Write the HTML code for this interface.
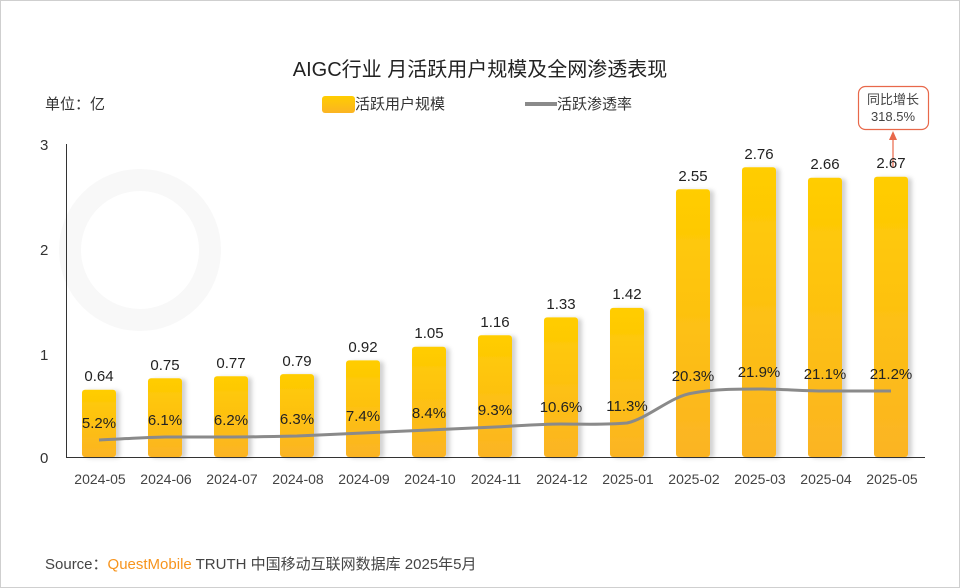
<!DOCTYPE html>
<html><head><meta charset="utf-8"><style>
body{margin:0;background:#fff}
svg{display:block;font-family:"Liberation Sans","Noto Sans CJK SC",sans-serif}
</style></head><body>
<svg width="960" height="588" viewBox="0 0 960 588">
<defs>
<linearGradient id="g" x1="0" y1="0" x2="0" y2="1"><stop offset="0" stop-color="#FFCD00"/><stop offset="1" stop-color="#FBB424"/></linearGradient>
<filter id="sh" x="-20%" y="-5%" width="150%" height="110%"><feDropShadow dx="4" dy="1" stdDeviation="2" flood-color="#000" flood-opacity="0.18"/></filter>
</defs>
<rect x="0.5" y="0.5" width="959" height="587" fill="#fff" stroke="#cfcfcf"/>
<g fill="none" stroke="#f8f8f8" stroke-width="22">
<circle cx="140" cy="250" r="70"/>
</g>
<text x="480" y="76" text-anchor="middle" font-size="20" fill="#222">AIGC行业 月活跃用户规模及全网渗透表现</text>
<text x="45" y="109" font-size="15" fill="#333">单位：亿</text>
<rect x="322" y="96" width="33" height="17" rx="3" fill="url(#g)"/>
<text x="355" y="109" font-size="15" fill="#333">活跃用户规模</text>
<line x1="525" y1="104" x2="557" y2="104" stroke="#8a8a8a" stroke-width="4"/>
<text x="557" y="109" font-size="15" fill="#333">活跃渗透率</text>
<rect x="858.5" y="86.5" width="70" height="43" rx="7" fill="#fff" stroke="#E8684A" stroke-width="1.2"/>
<text x="893" y="104" text-anchor="middle" font-size="13" fill="#444">同比增长</text>
<text x="893" y="121" text-anchor="middle" font-size="13" fill="#444">318.5%</text>
<line x1="893" y1="168" x2="893" y2="138" stroke="#E8684A" stroke-width="1.2"/>
<path d="M889 140 L893 131 L897 140Z" fill="#E8684A"/>
<g font-size="15" fill="#333">
<text x="40" y="150">3</text><text x="40" y="255">2</text><text x="40" y="360">1</text><text x="40" y="463">0</text>
</g>
<line x1="66.5" y1="144" x2="66.5" y2="457" stroke="#333"/>
<g filter="url(#sh)" fill="url(#g)">
<rect x="82" y="389.8" width="34" height="67.2" rx="3"/>
<rect x="148" y="378.3" width="34" height="78.7" rx="3"/>
<rect x="214" y="376.2" width="34" height="80.8" rx="3"/>
<rect x="280" y="374.1" width="34" height="82.9" rx="3"/>
<rect x="346" y="360.4" width="34" height="96.6" rx="3"/>
<rect x="412" y="346.8" width="34" height="110.2" rx="3"/>
<rect x="478" y="335.2" width="34" height="121.8" rx="3"/>
<rect x="544" y="317.4" width="34" height="139.6" rx="3"/>
<rect x="610" y="307.9" width="34" height="149.1" rx="3"/>
<rect x="676" y="189.3" width="34" height="267.7" rx="3"/>
<rect x="742" y="167.2" width="34" height="289.8" rx="3"/>
<rect x="808" y="177.7" width="34" height="279.3" rx="3"/>
<rect x="874" y="176.7" width="34" height="280.3" rx="3"/>
</g>
<line x1="66" y1="457.5" x2="925" y2="457.5" stroke="#333"/>
<g font-size="15" fill="#222" text-anchor="middle">
<text x="99" y="381">0.64</text><text x="165" y="370">0.75</text><text x="231" y="368">0.77</text><text x="297" y="366">0.79</text>
<text x="363" y="352">0.92</text><text x="429" y="338">1.05</text><text x="495" y="327">1.16</text><text x="561" y="309">1.33</text>
<text x="627" y="299">1.42</text><text x="693" y="181">2.55</text><text x="759" y="159">2.76</text><text x="825" y="169">2.66</text><text x="891" y="168">2.67</text>
</g>
<path d="M99 440 C121 439 143 437.5 165 437 C187 437 209 437 231 437 C253 437 275 436.5 297 436 C319 435 341 434 363 433 C385 432 407 431 429 430 C451 429 473 428 495 427 C517 426 539 424 561 424 C583 424 605 425 627 423 C649 418 671 396 693 393 C715 389 737 389 759 389 C781 389 803 391 825 391 C847 391 869 391 891 391" fill="none" stroke="#8a8a8a" stroke-width="3"/>
<g font-size="15" fill="#222" text-anchor="middle">
<text x="99" y="428">5.2%</text><text x="165" y="425">6.1%</text><text x="231" y="425">6.2%</text><text x="297" y="424">6.3%</text>
<text x="363" y="421">7.4%</text><text x="429" y="418">8.4%</text><text x="495" y="415">9.3%</text><text x="561" y="412">10.6%</text>
<text x="627" y="411">11.3%</text><text x="693" y="381">20.3%</text><text x="759" y="377">21.9%</text><text x="825" y="379">21.1%</text><text x="891" y="379">21.2%</text>
</g>
<g font-size="14" fill="#444" text-anchor="middle">
<text x="100" y="484">2024-05</text><text x="166" y="484">2024-06</text><text x="232" y="484">2024-07</text><text x="298" y="484">2024-08</text>
<text x="364" y="484">2024-09</text><text x="430" y="484">2024-10</text><text x="496" y="484">2024-11</text><text x="562" y="484">2024-12</text>
<text x="628" y="484">2025-01</text><text x="694" y="484">2025-02</text><text x="760" y="484">2025-03</text><text x="826" y="484">2025-04</text><text x="892" y="484">2025-05</text>
</g>
<text x="45" y="569" font-size="15" fill="#444">Source：<tspan fill="#F7941D">QuestMobile</tspan> TRUTH 中国移动互联网数据库 2025年5月</text>
</svg>
</body></html>
